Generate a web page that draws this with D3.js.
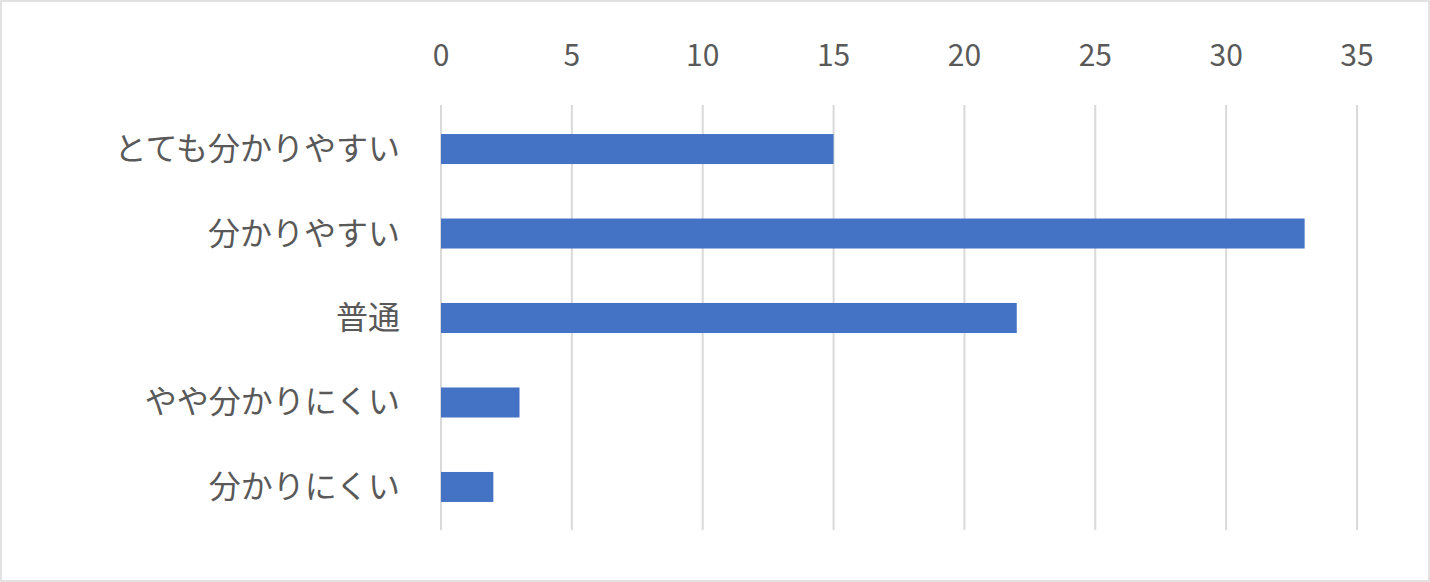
<!DOCTYPE html>
<html>
<head>
<meta charset="utf-8">
<script src="https://cdn.jsdelivr.net/npm/d3@7"></script>
<style>
body { margin: 0; background: #fff; }
text { font-family: "Noto Sans CJK JP", "Noto Sans", sans-serif; fill: #595959; }
</style>
</head>
<body>
<svg id="chart" width="1430" height="582"></svg>
<script>
// data
var categories = ["とても分かりやすい", "分かりやすい", "普通", "やや分かりにくい", "分かりにくい"];
var values = [15, 33, 22, 3, 2];
var ticks = [0, 5, 10, 15, 20, 25, 30, 35];

var svg = d3.select("#chart");

svg.append("rect")
    .attr("x", 1).attr("y", 1)
    .attr("width", 1428).attr("height", 580)
    .attr("fill", "#fff").attr("stroke", "#d9d9d9").attr("stroke-width", 1.5);

var x = d3.scaleLinear().domain([0, 35]).range([441, 1357]);
var y = d3.scaleBand().domain(categories).range([107, 529]).paddingInner(0.645).paddingOuter(0.32);

// gridlines
svg.selectAll(".grid")
    .data(ticks)
    .enter()
    .append("line")
    .attr("x1", function (d) { return x(d); })
    .attr("x2", function (d) { return x(d); })
    .attr("y1", 105).attr("y2", 530)
    .attr("stroke", "#d9d9d9").attr("stroke-width", 2);

// tick labels
svg.selectAll(".tick")
    .data(ticks)
    .enter()
    .append("text")
    .attr("x", function (d) { return x(d); })
    .attr("y", 66)
    .attr("text-anchor", "middle")
    .attr("font-size", 30)
    .text(function (d) { return d; });

// bars
svg.selectAll(".bar")
    .data(values)
    .enter()
    .append("rect")
    .attr("x", x(0))
    .attr("y", function (d, i) { return y(categories[i]); })
    .attr("width", function (d) { return x(d) - x(0); })
    .attr("height", y.bandwidth())
    .attr("fill", "#4472c4");

// category labels
svg.selectAll(".cat")
    .data(categories)
    .enter()
    .append("text")
    .attr("x", 400)
    .attr("y", function (d) { return y(d) + y.bandwidth() / 2 + 11; })
    .attr("text-anchor", "end")
    .attr("font-size", 32)
    .text(function (d) { return d; });
</script>
</body>
</html>
